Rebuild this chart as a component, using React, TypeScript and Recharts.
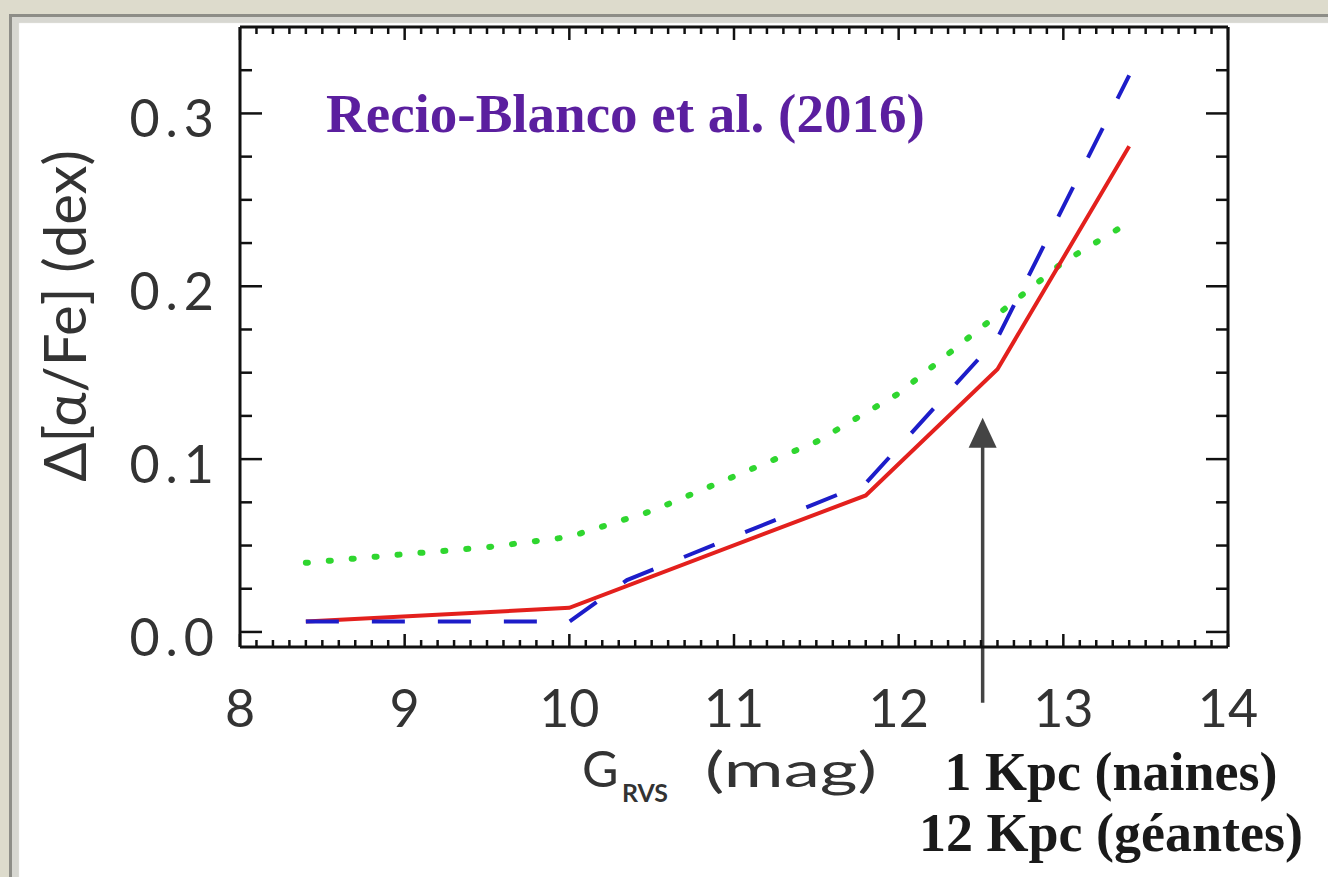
import { LineChart, Line, XAxis, YAxis, ReferenceLine, Customized } from "recharts";

// G_RVS magnitudes and the [alpha/Fe] error for each curve
const redMag = [8.4, 10.0, 11.8, 12.6, 13.4];
const redDelta = [0.006, 0.014, 0.079, 0.152, 0.281];

const blueMag = [8.4, 10.0, 10.35, 11.8, 12.6, 13.4];
const blueDelta = [0.006, 0.006, 0.03, 0.086, 0.17, 0.322];

const greenMag = [8.4, 9.0, 9.5, 10.0, 10.5, 11.0, 11.5, 12.0, 12.5, 13.0, 13.4];
const greenDelta = [0.04, 0.045, 0.049, 0.055, 0.07, 0.09, 0.11, 0.138, 0.176, 0.214, 0.237];

// arrow marking the 1 / 12 Kpc limit
const arrowMag = 12.51;
const arrowTip = 0.124;
const arrowBase = -0.041;

const xMajorTicks = [8, 9, 10, 11, 12, 13, 14];
const xTicks = Array.from({ length: 61 }, (_, i) => (80 + i) / 10);
const yMajorTicks = [0, 0.1, 0.2, 0.3];
const yTicks = [0, 0.025, 0.05, 0.075, 0.1, 0.125, 0.15, 0.175, 0.2, 0.225, 0.25, 0.275, 0.3, 0.325];

const xDomain = [8, 14];
const yDomain = [-0.0087, 0.35];

const toPoints = (xs: number[], ys: number[]) => xs.map((mag, i) => ({ mag, delta: ys[i] }));

const redData = toPoints(redMag, redDelta);
const blueData = toPoints(blueMag, blueDelta);
const greenData = toPoints(greenMag, greenDelta);

const INK = "#111";
const LABEL = "#333";
const SANS = "Lato, 'DejaVu Sans', sans-serif";
const SERIF = "'Liberation Serif', 'DejaVu Serif', serif";

const isMajor = (v: number, majors: number[]) => majors.some((m) => Math.abs(m - v) < 1e-6);

const BottomTick = (props: any) => {
    const { x, y, payload } = props;
    const major = isMajor(payload.value, xMajorTicks);
    return (
        <g>
            <line x1={x} y1={y} x2={x} y2={y - (major ? 13 : 7)} stroke={INK} strokeWidth={2.5} />
            {major && (
                <text x={x} y={y + 80} textAnchor="middle" fontFamily={SANS} fontSize={52} fill={LABEL}>
                    {payload.value}
                </text>
            )}
        </g>
    );
};

const TopTick = (props: any) => {
    const { x, y, payload } = props;
    const major = isMajor(payload.value, xMajorTicks);
    return <line x1={x} y1={y} x2={x} y2={y + (major ? 13 : 7)} stroke={INK} strokeWidth={2.5} />;
};

const LeftTick = (props: any) => {
    const { x, y, payload } = props;
    const major = isMajor(payload.value, yMajorTicks);
    return (
        <g>
            <line x1={x} y1={y} x2={x + (major ? 22 : 12)} y2={y} stroke={INK} strokeWidth={2.5} />
            {major && (
                <text
                    x={x - 20}
                    y={y + 24}
                    textAnchor="end"
                    fontFamily={SANS}
                    fontSize={52}
                    fill={LABEL}
                    letterSpacing={6}
                >
                    {payload.value.toFixed(1)}
                </text>
            )}
        </g>
    );
};

const RightTick = (props: any) => {
    const { x, y, payload } = props;
    const major = isMajor(payload.value, yMajorTicks);
    return <line x1={x} y1={y} x2={x - (major ? 22 : 12)} y2={y} stroke={INK} strokeWidth={2.5} />;
};

const Arrow = (props: any) => {
    const { x1, y1, x2, y2 } = props;
    const tipY = Math.min(y1, y2);
    const baseY = Math.max(y1, y2);
    const x = x1;
    return (
        <g>
            <line x1={x} y1={baseY} x2={x} y2={tipY + 25} stroke="#444" strokeWidth={3.5} />
            <polygon points={`${x},${tipY} ${x - 14},${tipY + 30} ${x + 14},${tipY + 30}`} fill="#444" />
        </g>
    );
};

const Annotations = () => (
    <g>
        <text x={326} y={132} fontFamily={SERIF} fontWeight="bold" fontSize={55} fill="#5b1f9f">
            Recio-Blanco et al. (2016)
        </text>
        <text
            x={86}
            y={316}
            transform="rotate(-90 86 316)"
            textAnchor="middle"
            fontFamily={SANS}
            fontSize={58}
            fill={LABEL}
        >
            Δ[α/Fe] (dex)
        </text>
        <text x={582} y={787} fontFamily={SANS} fontSize={50} fill={LABEL}>
            G
        </text>
        <text
            x={622}
            y={802}
            fontFamily={SANS}
            fontWeight="bold"
            fontSize={24}
            fill={LABEL}
            textLength={46}
            lengthAdjust="spacingAndGlyphs"
        >
            RVS
        </text>
        <text
            x={705}
            y={787}
            fontFamily={SANS}
            fontSize={48}
            fill={LABEL}
            textLength={172}
            lengthAdjust="spacingAndGlyphs"
        >
            (mag)
        </text>
        <text x={1111} y={790} textAnchor="middle" fontFamily={SERIF} fontWeight="bold" fontSize={54} fill="#1a1a1a">
            1 Kpc (naines)
        </text>
        <text x={1111} y={851} textAnchor="middle" fontFamily={SERIF} fontWeight="bold" fontSize={54} fill="#1a1a1a">
            12 Kpc (géantes)
        </text>
    </g>
);

export default function App() {
    return (
        <div
            style={{
                position: "absolute",
                left: 0,
                top: 0,
                width: 1328,
                height: 877,
                overflow: "hidden",
                background: "#dddbcc",
            }}
        >
            <div
                style={{
                    position: "absolute",
                    left: 9,
                    top: 14,
                    width: 1340,
                    height: 900,
                    background: "#fff",
                    borderLeft: "3px solid #8d8d87",
                    borderTop: "3px solid #8d8d87",
                    boxShadow: "inset 8px 7px 1px -1px #d7d7d1",
                }}
            />
            <div style={{ position: "absolute", left: 0, top: 0 }}>
                <LineChart
                    width={1328}
                    height={877}
                    margin={{ top: 26, right: 99, bottom: 170, left: 0 }}
                >
                    <XAxis
                        type="number"
                        dataKey="mag"
                        domain={xDomain}
                        allowDataOverflow
                        ticks={xTicks}
                        interval={0}
                        tick={<BottomTick />}
                        tickSize={0}
                        tickMargin={0}
                        tickLine={false}
                        height={60}
                        axisLine={{ stroke: INK, strokeWidth: 3 }}
                    />
                    <XAxis
                        xAxisId="top"
                        orientation="top"
                        type="number"
                        dataKey="mag"
                        domain={xDomain}
                        allowDataOverflow
                        ticks={xTicks}
                        interval={0}
                        tick={<TopTick />}
                        tickSize={0}
                        tickMargin={0}
                        tickLine={false}
                        height={1}
                        axisLine={{ stroke: INK, strokeWidth: 3 }}
                    />
                    <YAxis
                        type="number"
                        domain={yDomain}
                        allowDataOverflow
                        ticks={yTicks}
                        interval={0}
                        tick={<LeftTick />}
                        tickSize={0}
                        tickMargin={0}
                        tickLine={false}
                        width={240}
                        axisLine={{ stroke: INK, strokeWidth: 3 }}
                    />
                    <YAxis
                        yAxisId="right"
                        orientation="right"
                        type="number"
                        domain={yDomain}
                        allowDataOverflow
                        ticks={yTicks}
                        interval={0}
                        tick={<RightTick />}
                        tickSize={0}
                        tickMargin={0}
                        tickLine={false}
                        width={1}
                        axisLine={{ stroke: INK, strokeWidth: 3 }}
                    />

                    <Line
                        data={greenData}
                        dataKey="delta"
                        type="linear"
                        stroke="#2fd62f"
                        strokeWidth={6}
                        strokeDasharray="2 21"
                        strokeLinecap="round"
                        dot={false}
                        isAnimationActive={false}
                    />
                    <Line
                        data={redData}
                        dataKey="delta"
                        type="linear"
                        stroke="#e3201d"
                        strokeWidth={4}
                        dot={false}
                        isAnimationActive={false}
                    />
                    <Line
                        data={blueData}
                        dataKey="delta"
                        type="linear"
                        stroke="#1d1dc9"
                        strokeWidth={4}
                        strokeDasharray="33 33"
                        dot={false}
                        isAnimationActive={false}
                    />

                    <ReferenceLine
                        segment={[
                            { x: arrowMag, y: arrowBase },
                            { x: arrowMag, y: arrowTip },
                        ]}
                        ifOverflow="visible"
                        shape={<Arrow />}
                    />

                    <Customized component={<Annotations />} />
                </LineChart>
            </div>
        </div>
    );
}
